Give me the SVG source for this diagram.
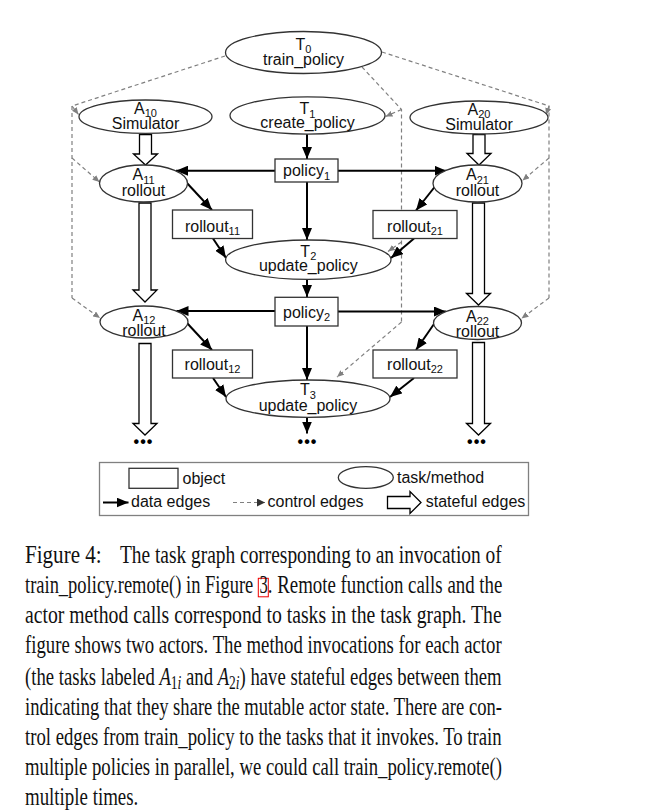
<svg xmlns="http://www.w3.org/2000/svg" width="646" height="812" viewBox="0 0 646 812">
<defs>
<style>
.n{fill:#fff;stroke:#333;stroke-width:1.3}
.t{font-family:"Liberation Sans",Arial,sans-serif;font-size:16px;fill:#111;text-anchor:middle}
.l{font-family:"Liberation Sans",Arial,sans-serif;font-size:16px;fill:#111}
.s{font-size:11px}
.d{fill:none;stroke:#000;stroke-width:2;marker-end:url(#ah)}
.c{fill:none;stroke:#808080;stroke-width:1.2;stroke-dasharray:4 3}
.ca{marker-end:url(#ch)}
.st{fill:#fff;stroke:#000;stroke-width:1.3;stroke-linejoin:miter}
.cap{font-family:"Liberation Serif","Times New Roman",serif;font-size:25px;fill:#111}
.dots{font-family:"Liberation Sans",Arial,sans-serif;font-size:16px;font-weight:bold;letter-spacing:1px;text-anchor:middle;fill:#000}
</style>
<marker id="ah" viewBox="0 0 12 10" refX="12" refY="5" markerWidth="12" markerHeight="10" markerUnits="userSpaceOnUse" orient="auto"><path d="M0,0 L12,5 L0,10 z" fill="#000"/></marker>
<marker id="ch" viewBox="0 0 7 6" refX="7" refY="3" markerWidth="7" markerHeight="6" markerUnits="userSpaceOnUse" orient="auto"><path d="M0,0 L7,3 L0,6 z" fill="#808080"/></marker>
<marker id="lch" viewBox="0 0 8 8" refX="8" refY="4" markerWidth="8" markerHeight="8" markerUnits="userSpaceOnUse" orient="auto"><path d="M0,0 L8,4 L0,8 z" fill="#333"/></marker>
</defs>
<rect width="646" height="812" fill="#fff"/>

<g id="connectors">
  <!-- control edges -->
  <path class="c" d="M225,56 L72,106 L72,298"/>
  <path class="c ca" d="M72,106 L78.5,114.5"/>
  <path class="c ca" d="M72,158 L99.5,182"/>
  <path class="c ca" d="M72,298 L100,318"/>
  <path class="c" d="M382,52 L549,106 L549,298"/>
  <path class="c ca" d="M549,106 L546,115"/>
  <path class="c ca" d="M549,158 L522.5,180.5"/>
  <path class="c ca" d="M549,298 L521.5,318.5"/>
  <path class="c" d="M362,67 L401.5,109.5 L401.5,322"/>
  <path class="c ca" d="M401.5,109.5 L385.5,116.5"/>
  <path class="c ca" d="M401.5,242 L388,251.5"/>
  <path class="c ca" d="M401.5,322 L337,377"/>
  <!-- data edges -->
  <path class="d" d="M307,134 L307,159"/>
  <path class="d" d="M275,170.7 L176,170.7"/>
  <path class="d" d="M338,170.7 L446.5,170.7"/>
  <path class="d" d="M307,182 L307,240"/>
  <path class="d" d="M186,182 L212,210"/>
  <path class="d" d="M437,184 L416,210.5"/>
  <path class="d" d="M213,238.5 L226,258"/>
  <path class="d" d="M414,238.5 L391,258"/>
  <path class="d" d="M307,279.5 L307,297"/>
  <path class="d" d="M275,311 L176.5,311"/>
  <path class="d" d="M338,311.5 L446,311.5"/>
  <path class="d" d="M307,326 L307,380"/>
  <path class="d" d="M187,323 L212,350"/>
  <path class="d" d="M434,324 L416,350"/>
  <path class="d" d="M213,378 L226,397"/>
  <path class="d" d="M414,378 L390,397"/>
  <path class="d" d="M307,417.5 L307,433.5"/>
  <!-- stateful edges -->
  <polygon class="st" points="139.5,134.5 151.5,134.5 151.5,154 157.5,154 145.5,165 133.5,154 139.5,154"/>
  <polygon class="st" points="139,203 151,203 151,290 157,290 145,302 133,290 139,290"/>
  <polygon class="st" points="139,343.5 151,343.5 151,423.5 157,423.5 145,435 133,423.5 139,423.5"/>
  <polygon class="st" points="473,134.5 485,134.5 485,153.5 491,153.5 479,165 467,153.5 473,153.5"/>
  <polygon class="st" points="472.5,203 484.5,203 484.5,293.5 490.5,293.5 478.5,305 466.5,293.5 472.5,293.5"/>
  <polygon class="st" points="472.5,342.5 484.5,342.5 484.5,423.5 490.5,423.5 478.5,435 466.5,423.5 472.5,423.5"/>
</g>

<g id="T0"><ellipse class="n" cx="303.5" cy="52.5" rx="78" ry="21"/><text class="t" x="303.5" y="49.5">T<tspan class="s" dy="3.5">0</tspan></text><text class="t" x="303.5" y="65">train_policy</text></g>
<g id="A10"><ellipse class="n" cx="145.5" cy="116.7" rx="66.5" ry="16.7"/><text class="t" x="145.5" y="113.5">A<tspan class="s" dy="3.5">10</tspan></text><text class="t" x="145.5" y="128.5">Simulator</text></g>
<g id="T1"><ellipse class="n" cx="307.5" cy="115.5" rx="77.5" ry="18.7"/><text class="t" x="307.5" y="114">T<tspan class="s" dy="3.5">1</tspan></text><text class="t" x="307.5" y="128">create_policy</text></g>
<g id="A20"><ellipse class="n" cx="479" cy="117.5" rx="69" ry="16.5"/><text class="t" x="479" y="114.5">A<tspan class="s" dy="3.5">20</tspan></text><text class="t" x="479" y="129.5">Simulator</text></g>
<g id="policy1"><rect class="n" x="275" y="159" width="63" height="23"/><text class="t" x="306.5" y="176">policy<tspan class="s" dy="3.5">1</tspan></text></g>
<g id="A11"><ellipse class="n" cx="143.5" cy="183.5" rx="44" ry="18.5"/><text class="t" x="143.5" y="180">A<tspan class="s" dy="3.5">11</tspan></text><text class="t" x="143.5" y="196">rollout</text></g>
<g id="A21"><ellipse class="n" cx="477.5" cy="183.5" rx="44.5" ry="18.5"/><text class="t" x="477.5" y="180">A<tspan class="s" dy="3.5">21</tspan></text><text class="t" x="477.5" y="196">rollout</text></g>
<g id="rollout11"><rect class="n" x="172.5" y="210" width="80" height="28.5"/><text class="t" x="212.5" y="231.5">rollout<tspan class="s" dy="3.5">11</tspan></text></g>
<g id="rollout21"><rect class="n" x="373" y="210.5" width="84" height="28"/><text class="t" x="415" y="231.5">rollout<tspan class="s" dy="3.5">21</tspan></text></g>
<g id="T2"><ellipse class="n" cx="308.3" cy="259.7" rx="82.7" ry="19.7"/><text class="t" x="308.3" y="256.5">T<tspan class="s" dy="3.5">2</tspan></text><text class="t" x="308.3" y="271">update_policy</text></g>
<g id="policy2"><rect class="n" x="275" y="297.3" width="63" height="28.7"/><text class="t" x="306.5" y="317.5">policy<tspan class="s" dy="3.5">2</tspan></text></g>
<g id="A12"><ellipse class="n" cx="144" cy="322" rx="44" ry="16"/><text class="t" x="144" y="320.5">A<tspan class="s" dy="3.5">12</tspan></text><text class="t" x="144" y="336">rollout</text></g>
<g id="A22"><ellipse class="n" cx="477.5" cy="323" rx="44" ry="16.5"/><text class="t" x="477.5" y="321.5">A<tspan class="s" dy="3.5">22</tspan></text><text class="t" x="477.5" y="337">rollout</text></g>
<g id="rollout12"><rect class="n" x="172.5" y="350" width="80" height="28"/><text class="t" x="212.5" y="369.5">rollout<tspan class="s" dy="3.5">12</tspan></text></g>
<g id="rollout22"><rect class="n" x="373" y="350" width="84" height="28"/><text class="t" x="415" y="369.5">rollout<tspan class="s" dy="3.5">22</tspan></text></g>
<g id="T3"><ellipse class="n" cx="308" cy="398.7" rx="82" ry="18.7"/><text class="t" x="308" y="395">T<tspan class="s" dy="3.5">3</tspan></text><text class="t" x="308" y="410.5">update_policy</text></g>

<g id="dots">
  <text class="dots" x="143.5" y="447">•••</text>
  <text class="dots" x="307.5" y="447">•••</text>
  <text class="dots" x="477" y="447">•••</text>
</g>

<g id="legend">
  <rect x="99.5" y="462.5" width="429" height="53" fill="#fff" stroke="#808080" stroke-width="1.3"/>
  <rect class="n" x="129" y="468.3" width="49" height="20"/>
  <text class="l" x="182.5" y="483.5">object</text>
  <ellipse class="n" cx="365.8" cy="477.5" rx="27.5" ry="10.8"/>
  <text class="l" x="397" y="482.7">task/method</text>
  <path class="d" d="M103,502.5 L128.5,502.5"/>
  <text class="l" x="131" y="507">data edges</text>
  <path d="M233,502.5 L265,502.5" fill="none" stroke="#808080" stroke-width="1.2" stroke-dasharray="4 3" marker-end="url(#lch)"/>
  <text class="l" x="267.5" y="507">control edges</text>
  <polygon class="st" points="387.5,496.5 410,496.5 410,491.5 421,502.5 410,513.5 410,508.5 387.5,508.5"/>
  <text class="l" x="425.7" y="507">stateful edges</text>
</g>

<g id="caption">
  <rect x="258.3" y="578.3" width="10" height="18.5" fill="none" stroke="#e00" stroke-width="1"/>
  <g transform="scale(0.76 1)">
    <text class="cap" x="32.89" y="563.5" textLength="100.9" lengthAdjust="spacingAndGlyphs">Figure 4:</text>
    <text class="cap" x="157.89" y="563.5" textLength="502.2" lengthAdjust="spacingAndGlyphs">The task graph corresponding to an invocation of</text>
    <text class="cap" x="32.89" y="593.5" textLength="300.4" lengthAdjust="spacingAndGlyphs">train_policy.remote() in Figure</text>
    <text class="cap" x="341.4" y="593.5" textLength="10.9" lengthAdjust="spacingAndGlyphs">3</text>
    <text class="cap" x="352.4" y="593.5" textLength="308.6" lengthAdjust="spacingAndGlyphs">. Remote function calls and the</text>
    <text class="cap" x="32.89" y="623.5" textLength="627.2" lengthAdjust="spacingAndGlyphs">actor method calls correspond to tasks in the task graph.  The</text>
    <text class="cap" x="32.89" y="653.5" textLength="627.2" lengthAdjust="spacingAndGlyphs">figure shows two actors. The method invocations for each actor</text>
    <text class="cap" x="32.89" y="685" textLength="627.2" lengthAdjust="spacingAndGlyphs">(the tasks labeled <tspan font-style="italic">A</tspan><tspan font-size="18" dy="4">1</tspan><tspan font-size="18" font-style="italic">i</tspan><tspan dy="-4"> and </tspan><tspan font-style="italic">A</tspan><tspan font-size="18" dy="4">2</tspan><tspan font-size="18" font-style="italic">i</tspan><tspan dy="-4">) have stateful edges between them</tspan></text>
    <text class="cap" x="32.89" y="715" textLength="627.6" lengthAdjust="spacingAndGlyphs">indicating that they share the mutable actor state. There are con-</text>
    <text class="cap" x="32.89" y="745" textLength="627.2" lengthAdjust="spacingAndGlyphs">trol edges from train_policy to the tasks that it invokes. To train</text>
    <text class="cap" x="32.89" y="775" textLength="627.6" lengthAdjust="spacingAndGlyphs">multiple policies in parallel, we could call train_policy.remote()</text>
    <text class="cap" x="32.89" y="805" textLength="149.1" lengthAdjust="spacingAndGlyphs">multiple times.</text>
  </g>
</g>
</svg>
